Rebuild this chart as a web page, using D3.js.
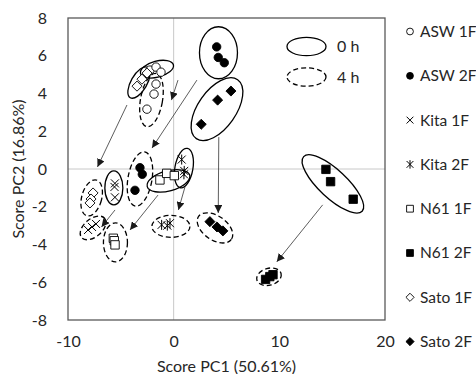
<!DOCTYPE html>
<html>
<head>
<meta charset="utf-8">
<script src="https://cdn.jsdelivr.net/npm/d3@7"></script>
<style>
  body { margin: 0; background: #fff; }
  svg { display: block; font-family: Lato, "Liberation Sans", sans-serif; }
</style>
</head>
<body>
<svg id="chart" width="476" height="374"></svg>
<script>
const categories = ['ASW 1F', 'ASW 2F', 'Kita 1F', 'Kita 2F', 'N61 1F', 'N61 2F', 'Sato 1F', 'Sato 2F'];
const shapes = ['circle', 'circle', 'x', 'star', 'square', 'square', 'diamond', 'diamond'];
const filled = [false, true, false, false, false, true, false, true];

// [PC1, PC2] scores per replicate
const score0h = [
  [[-2.24, 5.24], [-1.67, 5.4], [-1.2, 5.13]],
  [[4.07, 6.47], [4.22, 5.91], [4.79, 5.63]],
  [[-5.56, -0.76], [-5.6, -0.95], [-5.56, -1.5]],
  [[0.76, 0.5], [1.0, -0.1], [0.97, -0.28]],
  [[-1.3, -0.58], [-0.66, -0.23], [0.06, -0.35]],
  [[14.41, -0.02], [14.85, -0.67], [16.99, -1.6]],
  [[-3.47, 4.39], [-3.0, 4.76], [-2.52, 5.08]],
  [[5.42, 4.13], [4.16, 3.65], [2.61, 2.37]]
];
const score4h = [
  [[-1.67, 4.5], [-1.86, 3.97], [-2.53, 3.17]],
  [[-3.19, 0.07], [-2.97, -0.28], [-3.66, -1.13]],
  [[-8.1, -3.23], [-7.73, -3.07], [-7.35, -2.91]],
  [[-1.14, -2.96], [-0.6, -3.0], [-0.35, -2.87]],
  [[-5.71, -3.67], [-5.62, -3.8], [-5.55, -4.02]],
  [[8.7, -5.85], [9.1, -5.7], [9.4, -5.6]],
  [[-7.63, -1.27], [-7.82, -1.59], [-7.92, -1.8]],
  [[3.43, -2.79], [4.1, -3.07], [4.66, -3.28]]
];

// arrows 0 h -> 4 h, in score units
const arrowFrom = [[0.41, 4.71], [2.2, 4.71], [-5.55, -2.17], [1.07, -0.95], [-1.48, -1.38], [14.1, -1.9], [-4.42, 3.39], [4.27, 1.69]];
const arrowTo = [[-0.21, 3.65], [-2.05, 1.11], [-6.83, -3.07], [0.45, -2.17], [-4.13, -3.23], [9.76, -4.92], [-7.21, 0.11], [4.22, -2.33]];

// group outlines: centre in score units
const ring0h = [[-1.58, 5.29], [4.24, 6.16], [-5.66, -1.0], [0.97, 0.05], [-0.49, -0.63], [15.07, -0.79], [-3.28, 4.58], [4.1, 3.17]];
const ring4h = [[-2.1, 3.65], [-3.19, -0.53], [-7.63, -3.12], [-0.26, -3.04], [-5.51, -3.89], [9.02, -5.71], [-7.76, -1.53], [3.91, -3.12]];

const xTicks = [-10, 0, 10, 20];
const yTicks = [-8, -6, -4, -2, 0, 2, 4, 6, 8];

// outline shape in pixels: rx, ry, rotation
const ringShape0h = [[17, 8, -15], [19, 26, 0], [9, 17, 0], [9, 20, 10], [22, 10, -15], [40, 14, 43], [17.5, 8, -60], [36, 19, -55]];
const ringShape4h = [[11, 27, 10], [12, 27.5, 10], [15, 9, -40], [19, 11, 0], [12, 19.5, 0], [12.5, 8.5, -15], [10, 18.5, 15], [20, 12, 35]];

const svg = d3.select('#chart');
const plotL = 68, plotR = 385, plotT = 18, plotB = 320;

const x = d3.scaleLinear().domain([-10, 20]).range([plotL, plotR]);
const y = d3.scaleLinear().domain([-8, 8]).range([plotB, plotT]);

// zero lines
svg.append('line')
  .attr('x1', x(0)).attr('x2', x(0)).attr('y1', plotT).attr('y2', plotB)
  .attr('stroke', '#c8c8c8').attr('stroke-width', 1);
svg.append('line')
  .attr('x1', plotL).attr('x2', plotR).attr('y1', y(0)).attr('y2', y(0))
  .attr('stroke', '#c8c8c8').attr('stroke-width', 1);

svg.append('rect')
  .attr('x', plotL).attr('y', plotT)
  .attr('width', plotR - plotL).attr('height', plotB - plotT)
  .attr('fill', 'none').attr('stroke', '#595959').attr('stroke-width', 1.3);

const xAxis = svg.append('g')
  .attr('transform', `translate(0,${plotB})`)
  .call(d3.axisBottom(x).tickValues(xTicks).tickSize(0).tickPadding(16));
const yAxis = svg.append('g')
  .attr('transform', `translate(${plotL},0)`)
  .call(d3.axisLeft(y).tickValues(yTicks).tickSize(0).tickPadding(21));
[xAxis, yAxis].forEach(a => {
  a.select('.domain').remove();
  a.selectAll('text')
    .attr('font-family', 'Lato, sans-serif').attr('font-size', 16).attr('fill', '#262626')
    .text(d => d < 0 ? '-' + Math.abs(d) : d);
});

svg.append('text')
  .attr('x', (plotL + plotR) / 2).attr('y', 372)
  .attr('text-anchor', 'middle').attr('font-size', 16).attr('fill', '#262626')
  .text('Score PC1 (50.61%)');
svg.append('text')
  .attr('transform', `translate(24,${(plotT + plotB) / 2}) rotate(-90)`)
  .attr('text-anchor', 'middle').attr('font-size', 16).attr('fill', '#262626')
  .text('Score PC2 (16.86%)');

function markerPath(shape, s) {
  if (shape === 'circle') return d3.symbol(d3.symbolCircle, Math.PI * s * s)();
  if (shape === 'square') return `M${-s},${-s}H${s}V${s}H${-s}Z`;
  if (shape === 'diamond') return `M0,${-s * 1.2}L${s * 1.2},0L0,${s * 1.2}L${-s * 1.2},0Z`;
  if (shape === 'x') return `M${-s},${-s}L${s},${s}M${-s},${s}L${s},${-s}`;
  return `M${-s},${-s}L${s},${s}M${-s},${s}L${s},${-s}M0,${-s * 1.25}V${s * 1.25}`;
}

function drawMarker(g, i, s) {
  const line = shapes[i] === 'x' || shapes[i] === 'star';
  g.append('path')
    .attr('d', markerPath(shapes[i], s))
    .attr('fill', line ? 'none' : (filled[i] ? '#000' : '#fff'))
    .attr('stroke', '#000')
    .attr('stroke-width', line ? 1 : 0.9);
}

// outlines
const rings = [];
categories.forEach((c, i) => {
  rings.push({ c: ring0h[i], s: ringShape0h[i], dash: null });
  rings.push({ c: ring4h[i], s: ringShape4h[i], dash: '5,3' });
});
svg.append('g').selectAll('ellipse')
  .data(rings)
  .join('ellipse')
  .attr('transform', d => `translate(${x(d.c[0])},${y(d.c[1])}) rotate(${d.s[2]})`)
  .attr('rx', d => d.s[0]).attr('ry', d => d.s[1])
  .attr('fill', 'none').attr('stroke', '#000').attr('stroke-width', 1.3)
  .attr('stroke-dasharray', d => d.dash);

// arrows
svg.append('defs').append('marker')
  .attr('id', 'head')
  .attr('viewBox', '0 0 10 10').attr('refX', 10).attr('refY', 5)
  .attr('markerWidth', 8).attr('markerHeight', 8)
  .attr('markerUnits', 'userSpaceOnUse')
  .attr('orient', 'auto')
  .append('path').attr('d', 'M0,0L10,5L0,10Z').attr('fill', '#1a1a1a');

svg.append('g').selectAll('line')
  .data(categories.map((c, i) => [arrowFrom[i], arrowTo[i]]))
  .join('line')
  .attr('x1', d => x(d[0][0])).attr('y1', d => y(d[0][1]))
  .attr('x2', d => x(d[1][0])).attr('y2', d => y(d[1][1]))
  .attr('stroke', '#333').attr('stroke-width', 0.8)
  .attr('marker-end', 'url(#head)');

// points
const pts = svg.append('g');
categories.forEach((c, i) => {
  score0h[i].concat(score4h[i]).forEach(p => {
    const g = pts.append('g').attr('transform', `translate(${x(p[0])},${y(p[1])})`);
    drawMarker(g, i, shapes[i] === 'x' || shapes[i] === 'star' ? 4 : 4.2);
  });
});

// legend: time
const timeLegend = [['0 h', null, 46.5], ['4 h', '5,3', 77]];
timeLegend.forEach(t => {
  svg.append('ellipse')
    .attr('cx', 306.5).attr('cy', t[2]).attr('rx', 19.5).attr('ry', 9.2)
    .attr('fill', 'none').attr('stroke', '#000').attr('stroke-width', 1.3)
    .attr('stroke-dasharray', t[1]);
  svg.append('text')
    .attr('x', 337).attr('y', t[2]).attr('dy', '0.35em')
    .attr('font-size', 16).attr('fill', '#262626')
    .text(t[0]);
});

// legend: groups
const leg = svg.append('g');
categories.forEach((c, i) => {
  const ly = 31.5 + i * 44.3;
  const g = leg.append('g').attr('transform', `translate(410,${ly})`);
  drawMarker(g, i, 3.4);
  leg.append('text')
    .attr('x', 420).attr('y', ly).attr('dy', '0.35em')
    .attr('font-size', 15.5).attr('fill', '#262626')
    .text(c);
});
</script>
</body>
</html>
